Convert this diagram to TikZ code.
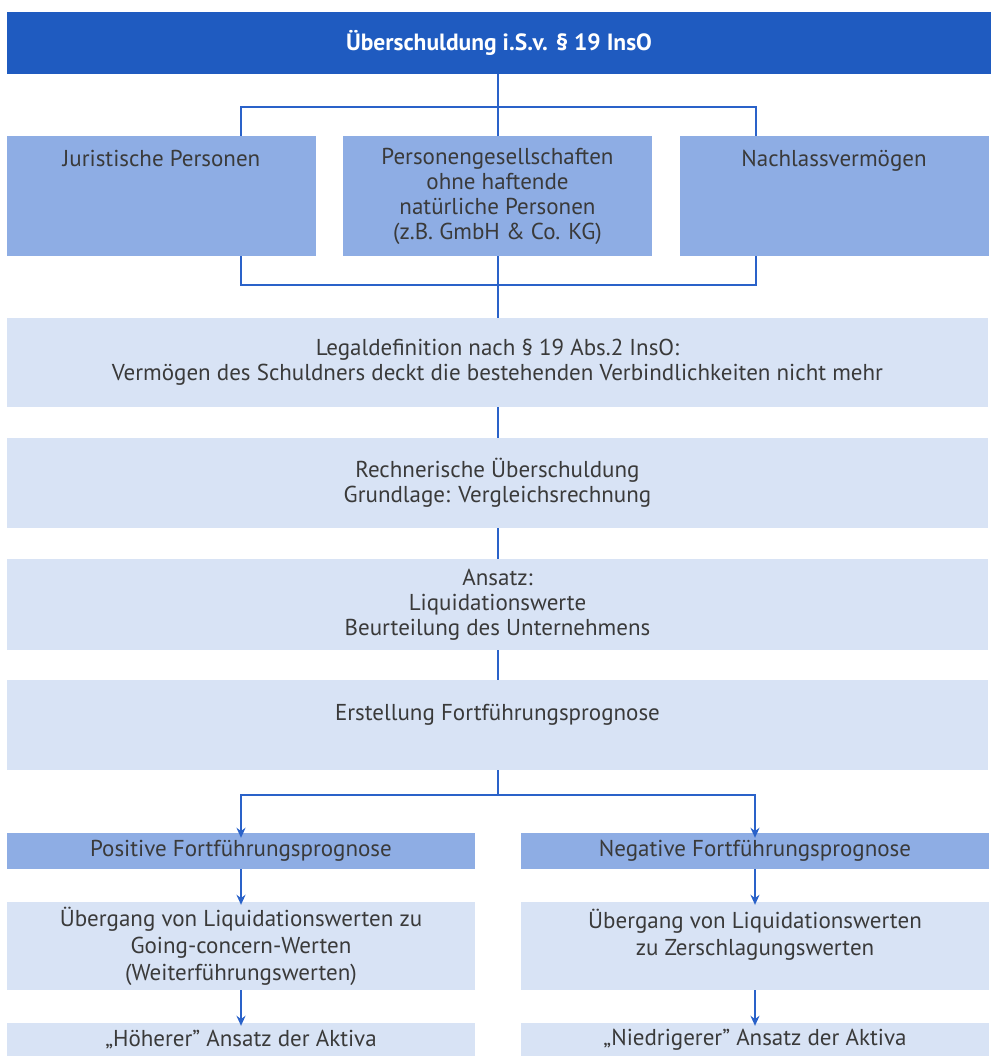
\documentclass[tikz,border=0pt]{standalone}
\usepackage{fontspec}
\setmainfont{PT Sans}
\usetikzlibrary{arrows.meta}
\definecolor{darkblue}{HTML}{1F5BC0}
\definecolor{midblue}{HTML}{8EADE4}
\definecolor{paleblue}{HTML}{D8E3F5}
\definecolor{lineblue}{HTML}{2A62C9}
\definecolor{textgray}{HTML}{3A3A3A}
\begin{document}
\begin{tikzpicture}[x=1pt,y=-1pt,
  box/.style={fill=paleblue,inner sep=0pt,align=center,text=textgray,
    font=\fontsize{23}{25}\selectfont},
  wide/.style={box,minimum width=981pt,minimum height=90pt},
  third/.style={box,fill=midblue,minimum width=309pt,minimum height=120pt},
  half/.style={box,minimum width=468pt},
  conn/.style={draw=lineblue,line width=2pt},
  >={Stealth[length=10pt,width=9pt]}]

\useasboundingbox (0,0) rectangle (991,1056);

\node[box,fill=darkblue,text=white,minimum width=984pt,minimum height=62pt,
  font=\fontsize{23.5}{25}\selectfont\bfseries] (top) at (499,43) {Überschuldung i.S.v. § 19 InsO};

\node[third] (jur) at (161.5,196) {Juristische Personen\\~\\~\\~};
\node[third] (pers) at (497.5,196) {Personengesellschaften\\ohne haftende\\natürliche Personen\\(z.B. GmbH \& Co. KG)};
\node[third] (nach) at (834,196) {Nachlassvermögen\\~\\~\\~};

\node[wide,minimum height=89pt] (legal) at (497.5,362.5) {Legaldefinition nach § 19 Abs.2 InsO:\\Vermögen des Schuldners deckt die bestehenden Verbindlichkeiten nicht mehr};
\node[wide] (rech) at (497.5,483) {Rechnerische Überschuldung\\Grundlage: Vergleichsrechnung};
\node[wide,minimum height=91pt] (ansatz) at (497.5,604.5) {Ansatz:\\Liquidationswerte\\Beurteilung des Unternehmens};
\node[wide] (prog) at (497.5,725) {Erstellung Fortführungsprognose\\~};

\node[half,fill=midblue,minimum height=36pt] (pos) at (241,851) {Positive Fortführungsprognose};
\node[half,fill=midblue,minimum height=36pt] (neg) at (755,851) {Negative Fortführungsprognose};
\node[half,minimum height=88pt,font=\fontsize{23}{27}\selectfont] (uepos) at (241,946) {Übergang von Liquidationswerten zu\\Going-concern-Werten\\(Weiterführungswerten)};
\node[half,minimum height=88pt,font=\fontsize{23}{27}\selectfont] (ueneg) at (755,946) {Übergang von Liquidationswerten\\zu Zerschlagungswerten\\~};
\node[half,minimum height=33pt] (hoch) at (241,1039.5) {„Höherer” Ansatz der Aktiva};
\node[half,minimum height=33pt] (nied) at (755,1039.5) {„Niedrigerer” Ansatz der Aktiva};

\coordinate (forkA) at (497.5,107);
\coordinate (forkB) at (497.5,285);
\coordinate (forkC) at (497.5,795);
\coordinate (jl) at (241,0);
\coordinate (jr) at (756,0);

\draw[conn] (forkA |- top.south) -- (forkA);
\draw[conn] (jl |- jur.north) |- (forkA) -| (jr |- nach.north);
\draw[conn] (pers.north) -- (forkA);
\draw[conn] (jl |- jur.south) |- (forkB) -| (jr |- nach.south);
\draw[conn] (pers.south) -- (legal.north);
\draw[conn] (legal) -- (rech);
\draw[conn] (rech) -- (ansatz);
\draw[conn] (ansatz) -- (prog);
\draw[conn] (prog.south) -- (forkC);
\draw[conn,->] (forkC) -| ([yshift=-5pt]pos.north);
\draw[conn,->] (forkC) -| ([yshift=-5pt]neg.north);
\draw[conn,->] (pos) -- ([yshift=-3pt]uepos.north);
\draw[conn,->] (neg) -- ([yshift=-3pt]ueneg.north);
\draw[conn,->] (uepos) -- ([yshift=-3pt]hoch.north);
\draw[conn,->] (ueneg) -- ([yshift=-3pt]nied.north);

\end{tikzpicture}
\end{document}
